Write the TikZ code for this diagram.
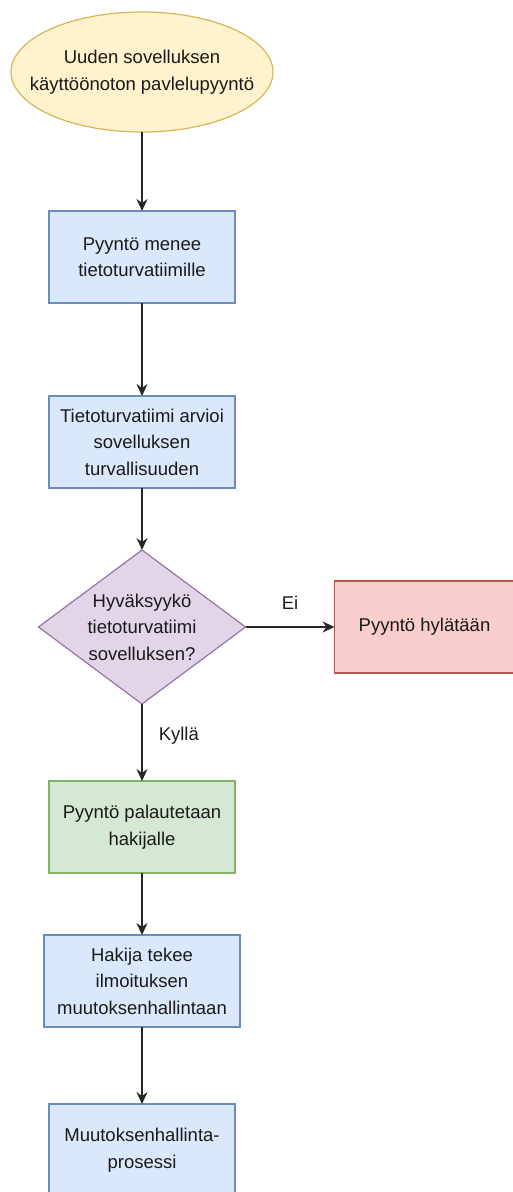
\documentclass[tikz,border=0pt]{standalone}
\usepackage{fontspec}
\setmainfont{Liberation Sans}
\usepackage{xcolor}
\usetikzlibrary{shapes.geometric, arrows.meta, positioning}
\definecolor{startfill}{HTML}{FFF2CC}
\definecolor{startline}{HTML}{D6B656}
\definecolor{stepfill}{HTML}{DAE8FC}
\definecolor{stepline}{HTML}{6C8EBF}
\definecolor{okfill}{HTML}{D5E8D4}
\definecolor{okline}{HTML}{82B366}
\definecolor{nofill}{HTML}{F8CECC}
\definecolor{noline}{HTML}{B85450}
\definecolor{askfill}{HTML}{E1D5E7}
\definecolor{askline}{HTML}{9673A6}
\definecolor{inkgray}{HTML}{1A1A1A}

\begin{document}
\begin{tikzpicture}[
    x=1pt, y=1pt,
    every node/.style={font=\fontsize{18.5}{26.5}\selectfont, text=inkgray},
    startnode/.style={ellipse, draw=startline, fill=startfill, minimum width=262pt, minimum height=120pt, inner xsep=-24pt, inner ysep=0pt, outer sep=0pt, align=center, line width=1.2pt},
    box/.style={rectangle, draw=#1line, fill=#1fill, minimum width=186pt, minimum height=92pt, inner sep=0pt, outer sep=0pt, align=center, line width=1.2pt},
    ask/.style={diamond, aspect=1.34, draw=askline, fill=askfill, minimum width=207pt, minimum height=154pt, inner sep=0pt, outer sep=0pt, align=center, line width=1.2pt},
    arrow/.style={-{Stealth[length=12pt, width=11pt, inset=4pt]}, line width=1.5pt, draw=black!85},
    lbl/.style={font=\fontsize{18.5}{26.5}\selectfont, inner sep=3pt}
]
\useasboundingbox (0,0) rectangle (512,-1192);

% Start
\node[startnode] (request) at (142,-72) {Uuden sovelluksen\\käyttöönoton pavlelupyyntö};

% Steps
\node[box=step, below=79pt of request] (toteam) {Pyyntö menee\\tietoturvatiimille};
\node[box=step, below=93pt of toteam] (review) {Tietoturvatiimi arvioi\\sovelluksen\\turvallisuuden};

% Decision
\node[ask, below=62pt of review] (approve) {Hyväksyykö\\tietoturvatiimi\\sovelluksen?};
\node[box=no, minimum width=180pt, right=89pt of approve] (reject) {Pyyntö hylätään};

% Yes branch
\node[box=ok, below=77pt of approve] (back) {Pyyntö palautetaan\\hakijalle};
\node[box=step, minimum width=196pt, below=62pt of back] (notify) {Hakija tekee\\ilmoituksen\\muutoksenhallintaan};
\node[box=step, below=77pt of notify] (change) {Muutoksenhallinta-\\prosessi};

% Arrows
\draw[arrow] (request) -- (toteam);
\draw[arrow] (toteam) -- (review);
\draw[arrow] (review) -- (approve);
\draw[arrow] (approve) -- (reject) node[lbl, midway, above=14pt] {Ei};
\draw[arrow] (approve) -- (back) node[lbl, midway, right=13pt, yshift=7pt] {Kyllä};
\draw[arrow] (back) -- (notify);
\draw[arrow] (notify) -- (change);

\end{tikzpicture}
\end{document}
